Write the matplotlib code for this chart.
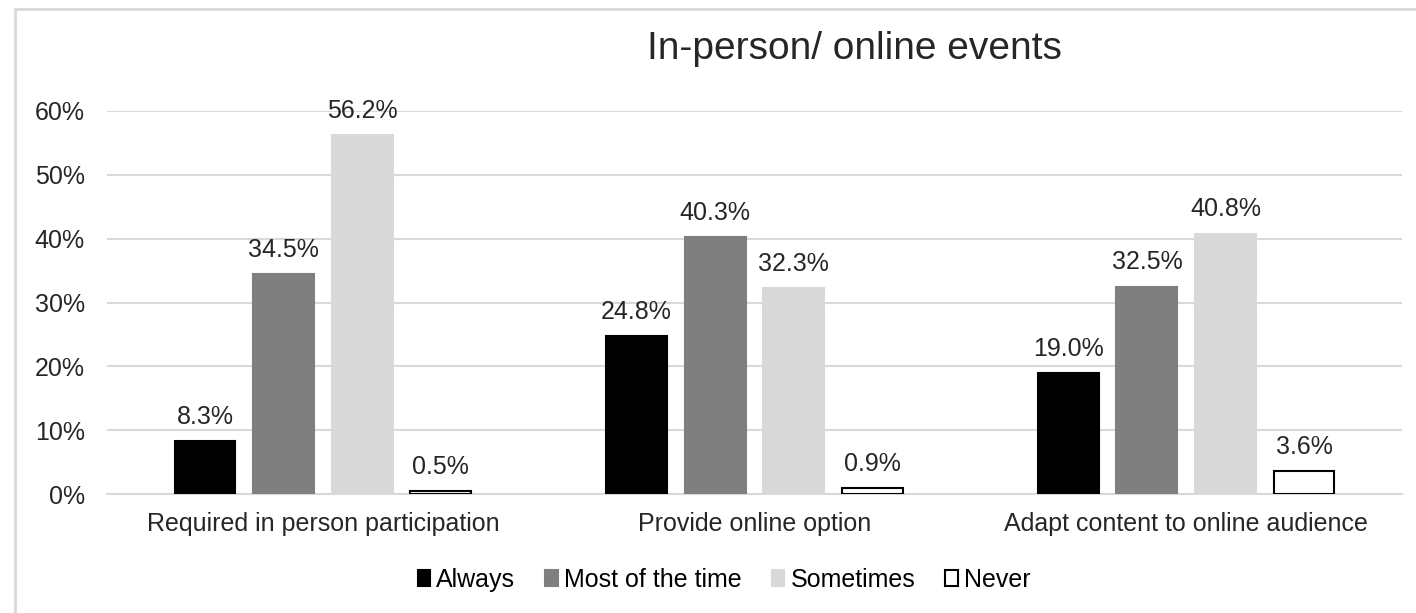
import numpy as np
import matplotlib.pyplot as plt
from matplotlib.patches import Rectangle

plt.rcParams['font.family'] = ['Liberation Sans', 'DejaVu Sans']

# data
categories = ['Required in person participation', 'Provide online option',
              'Adapt content to online audience']
series = ['Always', 'Most of the time', 'Sometimes', 'Never']
always = [8.3, 24.8, 19.0]
most = [34.5, 40.3, 32.5]
sometimes = [56.2, 32.3, 40.8]
never = [0.5, 0.9, 3.6]
values = [always, most, sometimes, never]
fills = ['#000000', '#7f7f7f', '#d9d9d9', '#ffffff']

fig = plt.figure(figsize=(14.16, 6.13), dpi=100)
ax = fig.add_axes([107 / 1416, 1 - 494 / 613, 1295 / 1416, 383 / 613])

x = np.arange(len(categories))
w = 0.141
step = 0.182
offsets = (np.arange(4) - 1.5) * step
for i in range(4):
    vals = np.array(values[i]) / 100
    bars = ax.bar(x + offsets[i], vals, w, color=fills[i],
                  edgecolor='black' if i == 3 else fills[i], linewidth=1.5,
                  label=series[i], zorder=3)
    for b, v in zip(bars, values[i]):
        ax.text(b.get_x() + b.get_width() / 2, b.get_height() + 0.019,
                f'{v:.1f}%', ha='center', va='bottom', fontsize=18, color='#262626')

ax.set_xlim(-0.5, 2.5)
ax.set_ylim(0, 0.6)
ticks = np.arange(0, 0.61, 0.1)
ax.set_yticks(ticks)
ax.set_yticklabels([f'{int(round(t*100))}%' for t in ticks])
ax.set_xticks(x)
ax.set_xticklabels(categories)
ax.tick_params(axis='both', length=0, labelsize=18, labelcolor='#262626')
ax.tick_params(axis='y', pad=16)
ax.tick_params(axis='x', pad=13)
ax.grid(axis='y', color='#d9d9d9', linewidth=1.5, zorder=0)
for s in ['top', 'right', 'left']:
    ax.spines[s].set_visible(False)
ax.spines['bottom'].set_color('#d9d9d9')
ax.spines['bottom'].set_linewidth(1.5)
ax.set_axisbelow(True)

fig.text(854 / 1416, 1 - 49 / 613, 'In-person/ online events', ha='center',
         va='center', fontsize=28, color='#262626')

fig.legend(loc='center', bbox_to_anchor=(724 / 1416, 1 - 580 / 613), ncol=4,
           frameon=False, fontsize=18, handlelength=0.5, handleheight=0.6,
           handletextpad=0.25, columnspacing=1.2)

fig.patches.append(Rectangle((15 / 1416, -0.1), 1.0, 1.1 - 9 / 613,
                             transform=fig.transFigure, fill=False,
                             edgecolor='#d9d9d9', linewidth=2))

fig.savefig('out.png', dpi=100)
